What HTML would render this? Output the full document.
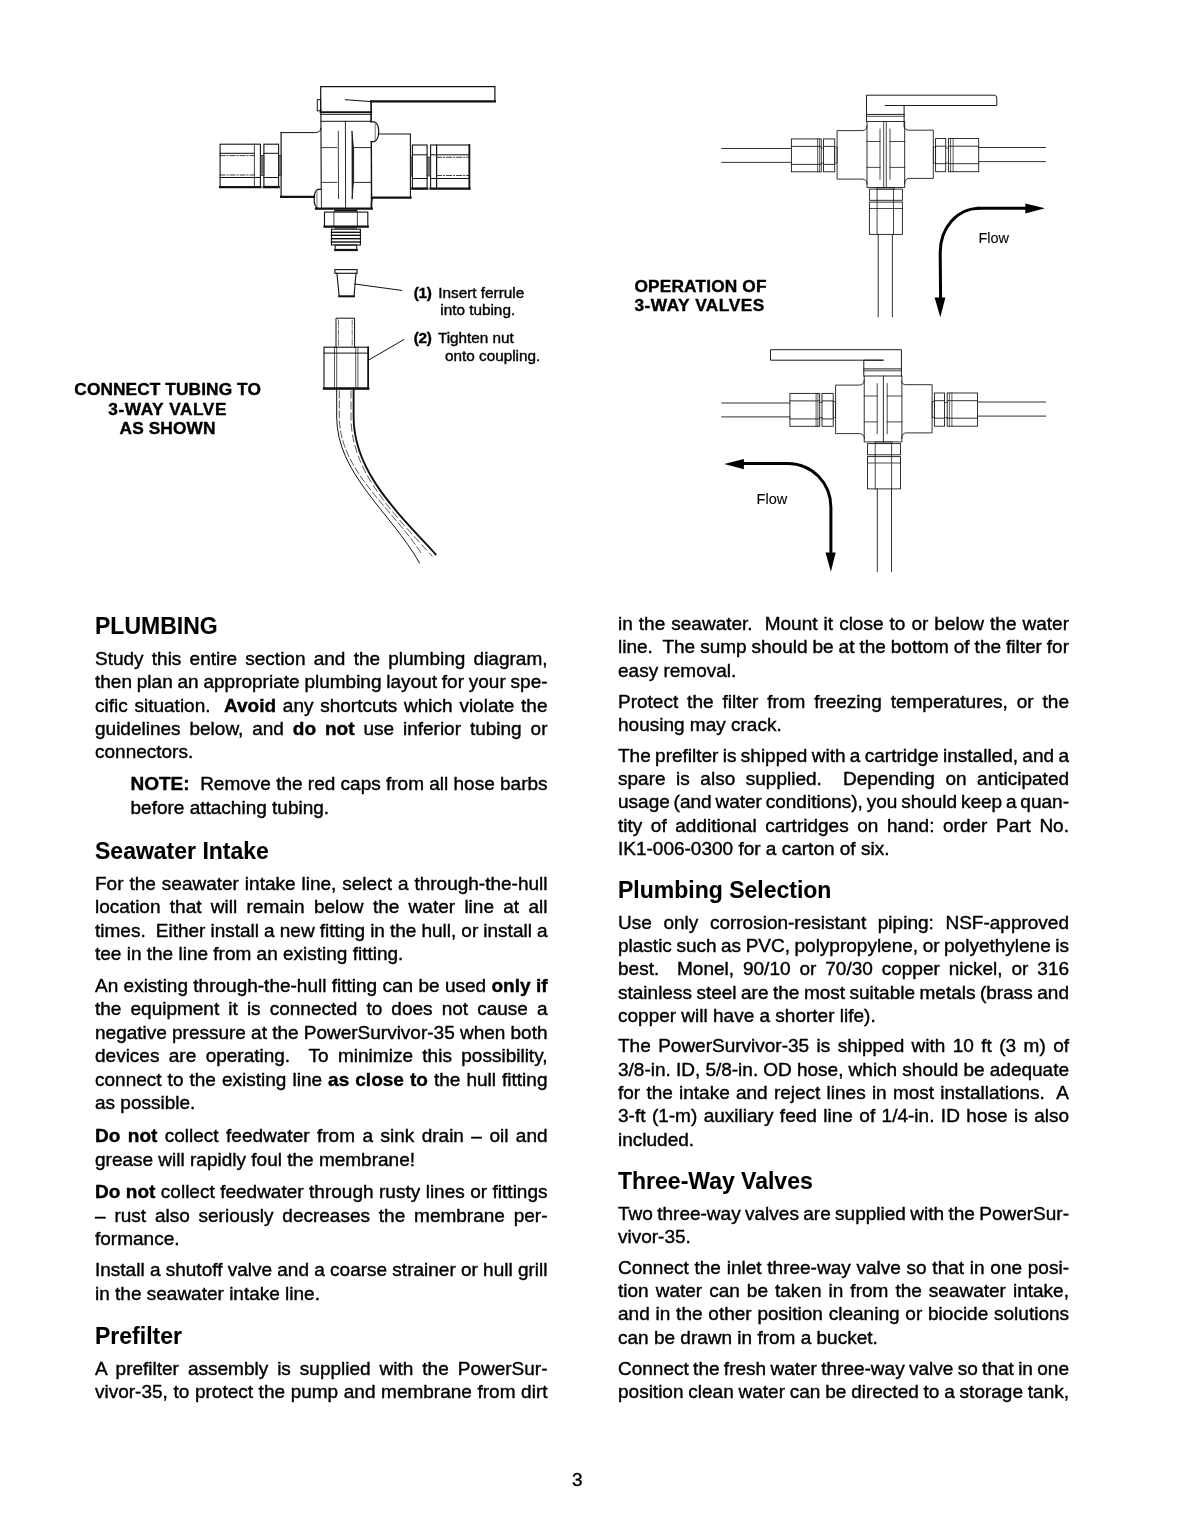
<!DOCTYPE html>
<html><head><meta charset="utf-8"><title>PowerSurvivor-35 Plumbing</title>
<style>
html,body{margin:0;padding:0;background:#fff;}
body{width:1190px;height:1538px;position:relative;overflow:hidden;font-family:"Liberation Sans",sans-serif;color:#000;filter:grayscale(1);-webkit-text-stroke:0.4px #000;}
.j,.l{position:absolute;white-space:nowrap;}
.j{text-align:justify;text-align-last:justify;white-space:normal;}
.l{text-align:left;}
b{font-weight:bold;}
svg{position:absolute;left:0;top:0;}
</style></head><body>
<svg width="1190" height="600" viewBox="0 0 1190 600" stroke-linecap="square">
<path d="M320.7,112 L320.7,86.6 L494.9,86.6 L494.9,101.4" stroke="#111" stroke-width="1.20" fill="none"/>
<path d="M345.4,99.7 L370.6,101.6 L494.9,101.6" stroke="#111" stroke-width="1.00" fill="none"/>
<line x1="371.0" y1="101.4" x2="494.9" y2="101.4" stroke="#111" stroke-width="2.20"/>
<rect x="317.3" y="99.7" width="3.4" height="11.1" stroke="#111" stroke-width="1.00" fill="none"/>
<line x1="371.1" y1="101.6" x2="371.1" y2="121.8" stroke="#111" stroke-width="1.60"/>
<line x1="320.9" y1="110.0" x2="321.3" y2="208.6" stroke="#111" stroke-width="1.10"/>
<line x1="320.7" y1="112.3" x2="371.1" y2="112.3" stroke="#111" stroke-width="2.00"/>
<line x1="320.7" y1="114.5" x2="371.1" y2="114.5" stroke="#111" stroke-width="0.80"/>
<line x1="320.9" y1="121.3" x2="371.1" y2="121.3" stroke="#111" stroke-width="1.00"/>
<line x1="371.3" y1="141.5" x2="371.6" y2="208.6" stroke="#111" stroke-width="1.40"/>
<line x1="345.4" y1="121.3" x2="345.6" y2="208.0" stroke="#111" stroke-width="0.90"/>
<line x1="338.3" y1="131.4" x2="338.5" y2="198.5" stroke="#111" stroke-width="0.80"/>
<path d="M352.0,131.4 L353.6,150 L353.6,180 L352.2,198.5 Z" stroke="#111" stroke-width="0.80" fill="#111"/>
<line x1="321.5" y1="147.6" x2="336.8" y2="147.6" stroke="#111" stroke-width="0.80"/>
<line x1="353.6" y1="147.6" x2="371.1" y2="147.6" stroke="#111" stroke-width="0.90"/>
<line x1="321.5" y1="182.4" x2="336.8" y2="182.4" stroke="#111" stroke-width="0.80"/>
<line x1="353.6" y1="182.4" x2="371.1" y2="182.4" stroke="#111" stroke-width="0.90"/>
<path d="M371.1,121.8 L374.2,121.8 Q378.7,123.5 378.7,131.6 Q378.7,139.8 374.2,141.6 L371.1,141.6" stroke="#111" stroke-width="1.20" fill="#fff"/>
<line x1="375.2" y1="124.0" x2="375.2" y2="139.5" stroke="#111" stroke-width="0.60"/>
<path d="M320.7,189.4 L317.6,189.4 Q314.1,191.5 314.1,199 Q314.1,206.5 318,208.6 L320.7,208.6" stroke="#111" stroke-width="1.20" fill="#fff"/>
<line x1="317.0" y1="192.0" x2="317.0" y2="206.0" stroke="#111" stroke-width="0.60"/>
<path d="M378.7,134 L410.4,134 L410.4,197.5" stroke="#111" stroke-width="1.10" fill="none"/>
<line x1="372.0" y1="197.6" x2="410.6" y2="197.6" stroke="#111" stroke-width="2.20"/>
<path d="M372.2,198.5 Q371.2,201 371.3,207.7" stroke="#111" stroke-width="1.40" fill="none"/>
<path d="M281.1,132.6 L315.5,132.6 Q320.7,132.4 320.9,128.4" stroke="#111" stroke-width="1.00" fill="none"/>
<line x1="281.1" y1="132.6" x2="281.1" y2="196.6" stroke="#111" stroke-width="1.20"/>
<line x1="281.1" y1="196.8" x2="314.1" y2="196.8" stroke="#111" stroke-width="2.20"/>
<line x1="316.0" y1="208.7" x2="371.8" y2="208.7" stroke="#111" stroke-width="2.20"/>
<rect x="220.1" y="144.2" width="40.3" height="42.9" stroke="#111" stroke-width="1.10" fill="none"/>
<line x1="220.1" y1="187.1" x2="260.4" y2="187.1" stroke="#111" stroke-width="2.40"/>
<line x1="254.4" y1="144.2" x2="254.4" y2="187.1" stroke="#111" stroke-width="0.80"/>
<line x1="220.1" y1="153.3" x2="254.4" y2="153.3" stroke="#111" stroke-width="1.00"/>
<line x1="220.1" y1="155.6" x2="254.4" y2="155.6" stroke="#111" stroke-width="0.80" stroke-dasharray="5 2 1 2"/>
<line x1="220.1" y1="175.0" x2="254.4" y2="175.0" stroke="#111" stroke-width="0.80" stroke-dasharray="5 2 1 2"/>
<line x1="220.1" y1="177.5" x2="260.4" y2="177.5" stroke="#111" stroke-width="1.00"/>
<rect x="263.9" y="144.2" width="14.7" height="42.9" stroke="#111" stroke-width="1.10" fill="none"/>
<line x1="263.9" y1="187.1" x2="278.6" y2="187.1" stroke="#111" stroke-width="2.40"/>
<line x1="263.9" y1="153.3" x2="278.6" y2="153.3" stroke="#111" stroke-width="1.00"/>
<line x1="263.9" y1="177.5" x2="278.6" y2="177.5" stroke="#111" stroke-width="1.00"/>
<rect x="260.4" y="155.3" width="3.5" height="20.2" stroke="#111" stroke-width="0.60" fill="#777"/>
<rect x="278.6" y="155.3" width="2.5" height="20.2" stroke="#111" stroke-width="0.60" fill="#777"/>
<rect x="412.4" y="145.0" width="14.7" height="43.6" stroke="#111" stroke-width="1.10" fill="none"/>
<line x1="412.4" y1="188.6" x2="427.1" y2="188.6" stroke="#111" stroke-width="2.40"/>
<line x1="412.4" y1="154.8" x2="427.1" y2="154.8" stroke="#111" stroke-width="1.00"/>
<line x1="412.4" y1="178.5" x2="427.1" y2="178.5" stroke="#111" stroke-width="1.00"/>
<rect x="430.6" y="145.0" width="38.8" height="43.6" stroke="#111" stroke-width="1.10" fill="none"/>
<line x1="430.6" y1="188.6" x2="469.4" y2="188.6" stroke="#111" stroke-width="2.40"/>
<line x1="469.4" y1="145.0" x2="469.4" y2="188.6" stroke="#111" stroke-width="1.80"/>
<line x1="436.6" y1="145.0" x2="436.6" y2="188.6" stroke="#111" stroke-width="1.20"/>
<line x1="430.6" y1="154.8" x2="469.4" y2="154.8" stroke="#111" stroke-width="1.00"/>
<line x1="436.6" y1="157.3" x2="469.4" y2="157.3" stroke="#111" stroke-width="0.80" stroke-dasharray="5 2 1 2"/>
<line x1="436.6" y1="175.5" x2="469.4" y2="175.5" stroke="#111" stroke-width="0.80" stroke-dasharray="5 2 1 2"/>
<line x1="430.6" y1="178.5" x2="469.4" y2="178.5" stroke="#111" stroke-width="1.00"/>
<rect x="410.4" y="157.0" width="2.0" height="19.0" stroke="#111" stroke-width="0.60" fill="#666"/>
<rect x="427.1" y="157.0" width="3.5" height="19.0" stroke="#111" stroke-width="0.60" fill="#777"/>
<line x1="335.2" y1="210.6" x2="356.4" y2="210.6" stroke="#111" stroke-width="2.00"/>
<rect x="324.5" y="212.1" width="43.3" height="14.5" stroke="#111" stroke-width="1.10" fill="none"/>
<line x1="324.5" y1="226.6" x2="367.8" y2="226.6" stroke="#111" stroke-width="2.20"/>
<line x1="333.9" y1="212.1" x2="333.9" y2="226.6" stroke="#111" stroke-width="0.80"/>
<line x1="357.4" y1="212.1" x2="357.4" y2="226.6" stroke="#111" stroke-width="0.80"/>
<line x1="335.5" y1="228.0" x2="356.4" y2="228.0" stroke="#111" stroke-width="1.00"/>
<rect x="331.5" y="229.2" width="28.9" height="15.8" stroke="#111" stroke-width="1.10" fill="none"/>
<line x1="331.5" y1="232.3" x2="360.4" y2="232.3" stroke="#111" stroke-width="1.40"/>
<line x1="331.5" y1="235.3" x2="360.4" y2="235.3" stroke="#111" stroke-width="1.40"/>
<line x1="331.5" y1="238.7" x2="360.4" y2="238.7" stroke="#111" stroke-width="1.40"/>
<line x1="331.5" y1="242.0" x2="360.4" y2="242.0" stroke="#111" stroke-width="1.40"/>
<rect x="335.2" y="245.0" width="21.5" height="5.4" stroke="#111" stroke-width="1.00" fill="none"/>
<line x1="335.2" y1="250.0" x2="356.7" y2="250.0" stroke="#111" stroke-width="2.20"/>
<rect x="334.9" y="269.6" width="22.2" height="3.7" stroke="#111" stroke-width="1.10" fill="none"/>
<path d="M336.9,273.3 L339.2,296.5 L354.0,296.5 L356.0,273.3" stroke="#111" stroke-width="1.10" fill="none"/>
<line x1="339.2" y1="296.3" x2="354.0" y2="296.3" stroke="#111" stroke-width="2.00"/>
<line x1="354.7" y1="284.0" x2="401.6" y2="290.4" stroke="#111" stroke-width="1.00"/>
<path d="M336,347.2 L336,318.2 L354.6,318.2 L354.6,347.2" stroke="#111" stroke-width="1.00" fill="none"/>
<line x1="338.5" y1="320.0" x2="338.5" y2="347.0" stroke="#111" stroke-width="0.60" stroke-dasharray="5 2 1 2"/>
<line x1="352.2" y1="320.0" x2="352.2" y2="347.0" stroke="#111" stroke-width="0.60" stroke-dasharray="5 2 1 2"/>
<rect x="324.0" y="347.2" width="44.2" height="41.5" stroke="#111" stroke-width="1.10" fill="none"/>
<line x1="324.0" y1="388.5" x2="368.2" y2="388.5" stroke="#111" stroke-width="2.40"/>
<line x1="368.2" y1="347.2" x2="368.2" y2="388.7" stroke="#111" stroke-width="1.60"/>
<line x1="324.0" y1="353.1" x2="368.2" y2="353.1" stroke="#111" stroke-width="1.00"/>
<line x1="334.5" y1="347.2" x2="334.5" y2="388.7" stroke="#111" stroke-width="0.70"/>
<line x1="336.7" y1="347.2" x2="336.7" y2="388.7" stroke="#111" stroke-width="0.70"/>
<line x1="355.7" y1="347.2" x2="355.7" y2="388.7" stroke="#111" stroke-width="0.70"/>
<line x1="357.9" y1="347.2" x2="357.9" y2="388.7" stroke="#111" stroke-width="0.70"/>
<line x1="368.2" y1="360.3" x2="403.8" y2="339.6" stroke="#111" stroke-width="1.00"/>
<path d="M336.7,388.7 L336.7,417.1 C336.7,473.7 390.9,512.4 419.5,562.9" stroke="#111" stroke-width="1.00" fill="none"/>
<path d="M353.6,388.7 L353.6,417.1 C353.6,470.5 394.5,509.5 435.6,554.3" stroke="#111" stroke-width="1.90" fill="none"/>
<path d="M339.3,391 L339.3,417.1 C339.4,471 393,509 421,553" stroke="#111" stroke-width="0.70" fill="none" stroke-dasharray="7 3"/>
<path d="M351.0,391 L351.0,417.1 C351.1,471 391,511 432,556" stroke="#111" stroke-width="0.70" fill="none" stroke-dasharray="7 4"/>
<rect x="867.0" y="121.5" width="37.7" height="65.9" stroke="#1c1c1c" stroke-width="0.90" fill="none"/>
<line x1="883.7" y1="121.5" x2="883.7" y2="187.4" stroke="#1c1c1c" stroke-width="0.80"/>
<line x1="886.3" y1="121.5" x2="886.3" y2="187.4" stroke="#1c1c1c" stroke-width="0.80"/>
<line x1="880.0" y1="129.1" x2="880.0" y2="179.1" stroke="#1c1c1c" stroke-width="0.80"/>
<line x1="890.0" y1="129.1" x2="890.0" y2="179.1" stroke="#1c1c1c" stroke-width="0.80"/>
<line x1="867.0" y1="141.5" x2="880.0" y2="141.5" stroke="#1c1c1c" stroke-width="0.80"/>
<line x1="890.0" y1="141.5" x2="904.7" y2="141.5" stroke="#1c1c1c" stroke-width="0.80"/>
<line x1="867.0" y1="167.4" x2="880.0" y2="167.4" stroke="#1c1c1c" stroke-width="0.80"/>
<line x1="890.0" y1="167.4" x2="904.7" y2="167.4" stroke="#1c1c1c" stroke-width="0.80"/>
<line x1="866.5" y1="114.4" x2="904.3" y2="114.4" stroke="#1c1c1c" stroke-width="1.00"/>
<line x1="866.5" y1="116.3" x2="904.3" y2="116.3" stroke="#1c1c1c" stroke-width="0.80"/>
<path d="M867.0,126.0 Q867.0,130.6 862.0,130.6 L837.1,130.6 L837.1,179.1 L862.0,179.1 Q867.0,179.1 867.3,184.0" stroke="#1c1c1c" stroke-width="0.90" fill="none"/>
<path d="M904.4,126.5 Q904.4,130.2 909.0,130.2 L933.3,130.2 L933.3,178.4 L909.0,178.4 Q904.6,178.4 904.6,184.0" stroke="#1c1c1c" stroke-width="0.90" fill="none"/>
<rect x="791.4" y="138.9" width="29.8" height="32.9" stroke="#1c1c1c" stroke-width="0.90" fill="none"/>
<line x1="817.6" y1="138.9" x2="817.6" y2="171.8" stroke="#1c1c1c" stroke-width="0.70"/>
<line x1="819.4" y1="138.9" x2="819.4" y2="171.8" stroke="#1c1c1c" stroke-width="0.70"/>
<line x1="791.4" y1="146.4" x2="821.2" y2="146.4" stroke="#1c1c1c" stroke-width="0.90"/>
<line x1="791.4" y1="164.4" x2="821.2" y2="164.4" stroke="#1c1c1c" stroke-width="0.90"/>
<rect x="823.5" y="138.9" width="11.2" height="32.9" stroke="#1c1c1c" stroke-width="0.90" fill="none"/>
<line x1="823.5" y1="146.4" x2="834.7" y2="146.4" stroke="#1c1c1c" stroke-width="0.90"/>
<line x1="823.5" y1="164.4" x2="834.7" y2="164.4" stroke="#1c1c1c" stroke-width="0.90"/>
<line x1="821.2" y1="148.0" x2="823.5" y2="148.0" stroke="#1c1c1c" stroke-width="0.70"/>
<line x1="821.2" y1="163.0" x2="823.5" y2="163.0" stroke="#1c1c1c" stroke-width="0.70"/>
<rect x="834.7" y="147.0" width="2.4" height="16.0" stroke="#1c1c1c" stroke-width="0.70" fill="none"/>
<line x1="721.8" y1="148.5" x2="791.4" y2="148.5" stroke="#1c1c1c" stroke-width="0.90"/>
<line x1="721.8" y1="162.4" x2="791.4" y2="162.4" stroke="#1c1c1c" stroke-width="0.90"/>
<rect x="935.6" y="138.5" width="10.1" height="33.2" stroke="#1c1c1c" stroke-width="0.90" fill="none"/>
<line x1="935.6" y1="146.2" x2="945.7" y2="146.2" stroke="#1c1c1c" stroke-width="0.90"/>
<line x1="935.6" y1="163.7" x2="945.7" y2="163.7" stroke="#1c1c1c" stroke-width="0.90"/>
<rect x="948.4" y="138.5" width="30.3" height="33.2" stroke="#1c1c1c" stroke-width="0.90" fill="none"/>
<line x1="950.6" y1="138.5" x2="950.6" y2="171.7" stroke="#1c1c1c" stroke-width="0.70"/>
<line x1="953.1" y1="138.5" x2="953.1" y2="171.7" stroke="#1c1c1c" stroke-width="0.70"/>
<line x1="948.4" y1="146.2" x2="978.7" y2="146.2" stroke="#1c1c1c" stroke-width="0.90"/>
<line x1="948.4" y1="163.7" x2="978.7" y2="163.7" stroke="#1c1c1c" stroke-width="0.90"/>
<rect x="933.3" y="147.0" width="2.3" height="16.0" stroke="#1c1c1c" stroke-width="0.70" fill="none"/>
<line x1="945.7" y1="148.0" x2="948.4" y2="148.0" stroke="#1c1c1c" stroke-width="0.70"/>
<line x1="945.7" y1="163.0" x2="948.4" y2="163.0" stroke="#1c1c1c" stroke-width="0.70"/>
<line x1="978.7" y1="147.5" x2="1045.5" y2="147.5" stroke="#1c1c1c" stroke-width="0.90"/>
<line x1="978.7" y1="161.6" x2="1045.5" y2="161.6" stroke="#1c1c1c" stroke-width="0.90"/>
<rect x="877.0" y="187.4" width="17.0" height="1.7" stroke="#1c1c1c" stroke-width="0.70" fill="none"/>
<rect x="869.4" y="189.1" width="33.0" height="11.2" stroke="#1c1c1c" stroke-width="0.90" fill="none"/>
<line x1="877.1" y1="189.1" x2="877.1" y2="200.3" stroke="#1c1c1c" stroke-width="0.80"/>
<line x1="893.5" y1="189.1" x2="893.5" y2="200.3" stroke="#1c1c1c" stroke-width="0.80"/>
<rect x="869.4" y="202.1" width="33.0" height="32.3" stroke="#1c1c1c" stroke-width="0.90" fill="none"/>
<line x1="869.4" y1="208.5" x2="902.4" y2="208.5" stroke="#1c1c1c" stroke-width="0.80"/>
<line x1="877.1" y1="200.3" x2="877.1" y2="234.4" stroke="#1c1c1c" stroke-width="0.80"/>
<line x1="893.5" y1="200.3" x2="893.5" y2="234.4" stroke="#1c1c1c" stroke-width="0.80"/>
<line x1="878.2" y1="234.4" x2="878.2" y2="316.8" stroke="#1c1c1c" stroke-width="0.90"/>
<line x1="892.4" y1="234.4" x2="892.4" y2="316.8" stroke="#1c1c1c" stroke-width="0.90"/>
<path d="M866.5,121.5 L866.5,95.2 L994.5,95.2 Q996.8,95.4 996.8,98 L996.8,105.5 L885.3,105.5" stroke="#1c1c1c" stroke-width="1.00" fill="none"/>
<line x1="904.1" y1="105.5" x2="904.1" y2="126.7" stroke="#1c1c1c" stroke-width="1.00"/>
<rect x="864.2" y="376.0" width="37.7" height="65.9" stroke="#1c1c1c" stroke-width="0.90" fill="none"/>
<line x1="883.4" y1="376.0" x2="883.4" y2="441.9" stroke="#1c1c1c" stroke-width="0.90"/>
<line x1="877.2" y1="383.6" x2="877.2" y2="433.6" stroke="#1c1c1c" stroke-width="0.80"/>
<line x1="887.2" y1="383.6" x2="887.2" y2="433.6" stroke="#1c1c1c" stroke-width="0.80"/>
<line x1="864.2" y1="396.0" x2="877.2" y2="396.0" stroke="#1c1c1c" stroke-width="0.80"/>
<line x1="887.2" y1="396.0" x2="901.9" y2="396.0" stroke="#1c1c1c" stroke-width="0.80"/>
<line x1="864.2" y1="421.9" x2="877.2" y2="421.9" stroke="#1c1c1c" stroke-width="0.80"/>
<line x1="887.2" y1="421.9" x2="901.9" y2="421.9" stroke="#1c1c1c" stroke-width="0.80"/>
<line x1="863.7" y1="368.9" x2="901.5" y2="368.9" stroke="#1c1c1c" stroke-width="1.00"/>
<line x1="863.7" y1="370.8" x2="901.5" y2="370.8" stroke="#1c1c1c" stroke-width="0.80"/>
<path d="M864.2,380.5 Q864.2,385.1 859.2,385.1 L835.6,385.1 L835.6,433.6 L859.2,433.6 Q864.2,433.6 864.5,438.5" stroke="#1c1c1c" stroke-width="0.90" fill="none"/>
<path d="M901.6,381.0 Q901.6,384.7 906.2,384.7 L932.1,384.7 L932.1,432.9 L906.2,432.9 Q901.8,432.9 901.8,438.5" stroke="#1c1c1c" stroke-width="0.90" fill="none"/>
<rect x="789.9" y="393.4" width="29.8" height="32.9" stroke="#1c1c1c" stroke-width="0.90" fill="none"/>
<line x1="816.1" y1="393.4" x2="816.1" y2="426.3" stroke="#1c1c1c" stroke-width="0.70"/>
<line x1="817.9" y1="393.4" x2="817.9" y2="426.3" stroke="#1c1c1c" stroke-width="0.70"/>
<line x1="789.9" y1="400.9" x2="819.7" y2="400.9" stroke="#1c1c1c" stroke-width="0.90"/>
<line x1="789.9" y1="418.9" x2="819.7" y2="418.9" stroke="#1c1c1c" stroke-width="0.90"/>
<rect x="822.0" y="393.4" width="11.2" height="32.9" stroke="#1c1c1c" stroke-width="0.90" fill="none"/>
<line x1="822.0" y1="400.9" x2="833.2" y2="400.9" stroke="#1c1c1c" stroke-width="0.90"/>
<line x1="822.0" y1="418.9" x2="833.2" y2="418.9" stroke="#1c1c1c" stroke-width="0.90"/>
<line x1="819.7" y1="402.5" x2="822.0" y2="402.5" stroke="#1c1c1c" stroke-width="0.70"/>
<line x1="819.7" y1="417.5" x2="822.0" y2="417.5" stroke="#1c1c1c" stroke-width="0.70"/>
<rect x="833.2" y="401.5" width="2.4" height="16.0" stroke="#1c1c1c" stroke-width="0.70" fill="none"/>
<line x1="721.8" y1="403.0" x2="789.9" y2="403.0" stroke="#1c1c1c" stroke-width="0.90"/>
<line x1="721.8" y1="416.9" x2="789.9" y2="416.9" stroke="#1c1c1c" stroke-width="0.90"/>
<rect x="934.4" y="393.0" width="10.1" height="33.2" stroke="#1c1c1c" stroke-width="0.90" fill="none"/>
<line x1="934.4" y1="400.7" x2="944.5" y2="400.7" stroke="#1c1c1c" stroke-width="0.90"/>
<line x1="934.4" y1="418.2" x2="944.5" y2="418.2" stroke="#1c1c1c" stroke-width="0.90"/>
<rect x="947.2" y="393.0" width="30.3" height="33.2" stroke="#1c1c1c" stroke-width="0.90" fill="none"/>
<line x1="949.4" y1="393.0" x2="949.4" y2="426.2" stroke="#1c1c1c" stroke-width="0.70"/>
<line x1="951.9" y1="393.0" x2="951.9" y2="426.2" stroke="#1c1c1c" stroke-width="0.70"/>
<line x1="947.2" y1="400.7" x2="977.5" y2="400.7" stroke="#1c1c1c" stroke-width="0.90"/>
<line x1="947.2" y1="418.2" x2="977.5" y2="418.2" stroke="#1c1c1c" stroke-width="0.90"/>
<rect x="932.1" y="401.5" width="2.3" height="16.0" stroke="#1c1c1c" stroke-width="0.70" fill="none"/>
<line x1="944.5" y1="402.5" x2="947.2" y2="402.5" stroke="#1c1c1c" stroke-width="0.70"/>
<line x1="944.5" y1="417.5" x2="947.2" y2="417.5" stroke="#1c1c1c" stroke-width="0.70"/>
<line x1="977.5" y1="402.0" x2="1045.5" y2="402.0" stroke="#1c1c1c" stroke-width="0.90"/>
<line x1="977.5" y1="416.1" x2="1045.5" y2="416.1" stroke="#1c1c1c" stroke-width="0.90"/>
<rect x="875.1" y="441.9" width="17.0" height="1.7" stroke="#1c1c1c" stroke-width="0.70" fill="none"/>
<rect x="867.5" y="443.6" width="33.0" height="11.2" stroke="#1c1c1c" stroke-width="0.90" fill="none"/>
<line x1="875.2" y1="443.6" x2="875.2" y2="454.8" stroke="#1c1c1c" stroke-width="0.80"/>
<line x1="891.6" y1="443.6" x2="891.6" y2="454.8" stroke="#1c1c1c" stroke-width="0.80"/>
<rect x="867.5" y="456.6" width="33.0" height="32.3" stroke="#1c1c1c" stroke-width="0.90" fill="none"/>
<line x1="867.5" y1="463.0" x2="900.5" y2="463.0" stroke="#1c1c1c" stroke-width="0.80"/>
<line x1="875.2" y1="454.8" x2="875.2" y2="488.9" stroke="#1c1c1c" stroke-width="0.80"/>
<line x1="891.6" y1="454.8" x2="891.6" y2="488.9" stroke="#1c1c1c" stroke-width="0.80"/>
<line x1="877.3" y1="488.9" x2="877.3" y2="571.3" stroke="#1c1c1c" stroke-width="0.90"/>
<line x1="891.5" y1="488.9" x2="891.5" y2="571.3" stroke="#1c1c1c" stroke-width="0.90"/>
<path d="M863.8,376 L863.8,360.2 L883,360.2 M901.4,376 L901.4,349.7 L770.5,349.7 L770.5,360.2 L883,360.2" stroke="#1c1c1c" stroke-width="1.00" fill="none"/>
<path d="M978.8,208.2 L1026,208.2" stroke="#000" stroke-width="3.00" fill="none"/>
<path d="M978.8,208.2 C957,208.4 940.2,228 940.2,252.4 L940.6,299" stroke="#000" stroke-width="3.00" fill="none"/>
<polygon points="1025.3,203.6 1045.0,208.3 1025.3,213.6" fill="#000"/>
<polygon points="934.6,297.4 945.4,297.4 940.3,317.2" fill="#000"/>
<path d="M743,463.4 L788,463.4 C812,463.6 830.9,483 830.9,507.4 L830.9,553" stroke="#000" stroke-width="3.00" fill="none"/>
<polygon points="743.9,458.9 724.2,463.9 743.9,469.2" fill="#000"/>
<polygon points="825.5,552.4 835.7,552.4 830.9,571.7" fill="#000"/>
</svg>
<div class="l" style="left:95.0px;top:615.33px;font-size:23.0px;line-height:23.0px;font-weight:bold;-webkit-text-stroke:0.1px #000">PLUMBING</div>
<div class="l" style="left:95.0px;top:648.81px;font-size:19.0px;line-height:19.0px;word-spacing:2.93px">Study this entire section and the plumbing diagram,</div>
<div class="l" style="left:95.0px;top:672.21px;font-size:19.0px;line-height:19.0px;word-spacing:-0.47px">then plan an appropriate plumbing layout for your spe-</div>
<div class="l" style="left:95.0px;top:695.61px;font-size:19.0px;line-height:19.0px;word-spacing:1.47px">cific situation.&nbsp; <b>Avoid</b> any shortcuts which violate the</div>
<div class="l" style="left:95.0px;top:719.01px;font-size:19.0px;line-height:19.0px;word-spacing:3.62px">guidelines below, and <b>do not</b> use inferior tubing or</div>
<div class="l" style="left:95.0px;top:742.41px;font-size:19.0px;line-height:19.0px">connectors.</div>
<div class="l" style="left:130.5px;top:774.21px;font-size:19.0px;line-height:19.0px;word-spacing:-0.01px"><b>NOTE:</b>&nbsp; Remove the red caps from all hose barbs</div>
<div class="l" style="left:130.5px;top:797.61px;font-size:19.0px;line-height:19.0px">before attaching tubing.</div>
<div class="l" style="left:95.0px;top:839.53px;font-size:23.0px;line-height:23.0px;font-weight:bold;-webkit-text-stroke:0.1px #000">Seawater Intake</div>
<div class="l" style="left:95.0px;top:873.71px;font-size:19.0px;line-height:19.0px;word-spacing:0.67px">For the seawater intake line, select a through-the-hull</div>
<div class="l" style="left:95.0px;top:897.11px;font-size:19.0px;line-height:19.0px;word-spacing:4.04px">location that will remain below the water line at all</div>
<div class="l" style="left:95.0px;top:920.51px;font-size:19.0px;line-height:19.0px;word-spacing:-0.22px">times.&nbsp; Either install a new fitting in the hull, or install a</div>
<div class="l" style="left:95.0px;top:943.91px;font-size:19.0px;line-height:19.0px">tee in the line from an existing fitting.</div>
<div class="l" style="left:95.0px;top:976.01px;font-size:19.0px;line-height:19.0px;word-spacing:0.06px">An existing through-the-hull fitting can be used <b>only if</b></div>
<div class="l" style="left:95.0px;top:999.41px;font-size:19.0px;line-height:19.0px;word-spacing:3.80px">the equipment it is connected to does not cause a</div>
<div class="l" style="left:95.0px;top:1022.81px;font-size:19.0px;line-height:19.0px;word-spacing:-0.10px">negative pressure at the PowerSurvivor-35 when both</div>
<div class="l" style="left:95.0px;top:1046.21px;font-size:19.0px;line-height:19.0px;word-spacing:4.10px">devices are operating.&nbsp; To minimize this possibility,</div>
<div class="l" style="left:95.0px;top:1069.61px;font-size:19.0px;line-height:19.0px;word-spacing:0.78px">connect to the existing line <b>as close to</b> the hull fitting</div>
<div class="l" style="left:95.0px;top:1093.01px;font-size:19.0px;line-height:19.0px">as possible.</div>
<div class="l" style="left:95.0px;top:1126.31px;font-size:19.0px;line-height:19.0px;word-spacing:2.17px"><b>Do not</b> collect feedwater from a sink drain &ndash; oil and</div>
<div class="l" style="left:95.0px;top:1149.71px;font-size:19.0px;line-height:19.0px">grease will rapidly foul the membrane!</div>
<div class="l" style="left:95.0px;top:1182.11px;font-size:19.0px;line-height:19.0px;word-spacing:0.20px"><b>Do not</b> collect feedwater through rusty lines or fittings</div>
<div class="l" style="left:95.0px;top:1205.51px;font-size:19.0px;line-height:19.0px;word-spacing:3.54px">&ndash; rust also seriously decreases the membrane per-</div>
<div class="l" style="left:95.0px;top:1228.91px;font-size:19.0px;line-height:19.0px">formance.</div>
<div class="l" style="left:95.0px;top:1260.21px;font-size:19.0px;line-height:19.0px;word-spacing:-0.02px">Install a shutoff valve and a coarse strainer or hull grill</div>
<div class="l" style="left:95.0px;top:1283.61px;font-size:19.0px;line-height:19.0px">in the seawater intake line.</div>
<div class="l" style="left:95.0px;top:1325.13px;font-size:23.0px;line-height:23.0px;font-weight:bold;-webkit-text-stroke:0.1px #000">Prefilter</div>
<div class="l" style="left:95.0px;top:1358.71px;font-size:19.0px;line-height:19.0px;word-spacing:3.69px">A prefilter assembly is supplied with the PowerSur-</div>
<div class="l" style="left:95.0px;top:1382.11px;font-size:19.0px;line-height:19.0px;word-spacing:0.33px">vivor-35, to protect the pump and membrane from dirt</div>
<div class="l" style="left:618.0px;top:614.01px;font-size:19.0px;line-height:19.0px;word-spacing:0.77px">in the seawater.&nbsp; Mount it close to or below the water</div>
<div class="l" style="left:618.0px;top:637.41px;font-size:19.0px;line-height:19.0px;word-spacing:-0.32px">line.&nbsp; The sump should be at the bottom of the filter for</div>
<div class="l" style="left:618.0px;top:660.81px;font-size:19.0px;line-height:19.0px">easy removal.</div>
<div class="l" style="left:618.0px;top:691.71px;font-size:19.0px;line-height:19.0px;word-spacing:3.63px">Protect the filter from freezing temperatures, or the</div>
<div class="l" style="left:618.0px;top:715.11px;font-size:19.0px;line-height:19.0px">housing may crack.</div>
<div class="l" style="left:618.0px;top:745.51px;font-size:19.0px;line-height:19.0px;word-spacing:-0.94px">The prefilter is shipped with a cartridge installed, and a</div>
<div class="l" style="left:618.0px;top:768.91px;font-size:19.0px;line-height:19.0px;word-spacing:5.28px">spare is also supplied.&nbsp; Depending on anticipated</div>
<div class="l" style="left:618.0px;top:792.31px;font-size:19.0px;line-height:19.0px;word-spacing:-1.46px">usage (and water conditions), you should keep a quan-</div>
<div class="l" style="left:618.0px;top:815.71px;font-size:19.0px;line-height:19.0px;word-spacing:3.30px">tity of additional cartridges on hand: order Part No.</div>
<div class="l" style="left:618.0px;top:839.11px;font-size:19.0px;line-height:19.0px">IK1-006-0300 for a carton of six.</div>
<div class="l" style="left:618.0px;top:878.73px;font-size:23.0px;line-height:23.0px;font-weight:bold;-webkit-text-stroke:0.1px #000">Plumbing Selection</div>
<div class="l" style="left:618.0px;top:912.51px;font-size:19.0px;line-height:19.0px;word-spacing:6.35px">Use only corrosion-resistant piping: NSF-approved</div>
<div class="l" style="left:618.0px;top:935.91px;font-size:19.0px;line-height:19.0px;word-spacing:-0.75px">plastic such as PVC, polypropylene, or polyethylene is</div>
<div class="l" style="left:618.0px;top:959.31px;font-size:19.0px;line-height:19.0px;word-spacing:3.64px">best.&nbsp; Monel, 90/10 or 70/30 copper nickel, or 316</div>
<div class="l" style="left:618.0px;top:982.71px;font-size:19.0px;line-height:19.0px;word-spacing:-0.79px">stainless steel are the most suitable metals (brass and</div>
<div class="l" style="left:618.0px;top:1006.11px;font-size:19.0px;line-height:19.0px">copper will have a shorter life).</div>
<div class="l" style="left:618.0px;top:1036.21px;font-size:19.0px;line-height:19.0px;word-spacing:2.12px">The PowerSurvivor-35 is shipped with 10 ft (3 m) of</div>
<div class="l" style="left:618.0px;top:1059.61px;font-size:19.0px;line-height:19.0px;word-spacing:-0.13px">3/8-in. ID, 5/8-in. OD hose, which should be adequate</div>
<div class="l" style="left:618.0px;top:1083.01px;font-size:19.0px;line-height:19.0px;word-spacing:0.95px">for the intake and reject lines in most installations.&nbsp; A</div>
<div class="l" style="left:618.0px;top:1106.41px;font-size:19.0px;line-height:19.0px;word-spacing:1.17px">3-ft (1-m) auxiliary feed line of 1/4-in. ID hose is also</div>
<div class="l" style="left:618.0px;top:1129.81px;font-size:19.0px;line-height:19.0px">included.</div>
<div class="l" style="left:618.0px;top:1170.33px;font-size:23.0px;line-height:23.0px;font-weight:bold;-webkit-text-stroke:0.1px #000">Three-Way Valves</div>
<div class="l" style="left:618.0px;top:1204.01px;font-size:19.0px;line-height:19.0px;word-spacing:-0.90px">Two three-way valves are supplied with the PowerSur-</div>
<div class="l" style="left:618.0px;top:1227.41px;font-size:19.0px;line-height:19.0px">vivor-35.</div>
<div class="l" style="left:618.0px;top:1257.61px;font-size:19.0px;line-height:19.0px;word-spacing:0.47px">Connect the inlet three-way valve so that in one posi-</div>
<div class="l" style="left:618.0px;top:1281.01px;font-size:19.0px;line-height:19.0px;word-spacing:1.76px">tion water can be taken in from the seawater intake,</div>
<div class="l" style="left:618.0px;top:1304.41px;font-size:19.0px;line-height:19.0px;word-spacing:0.53px">and in the other position cleaning or biocide solutions</div>
<div class="l" style="left:618.0px;top:1327.81px;font-size:19.0px;line-height:19.0px">can be drawn in from a bucket.</div>
<div class="l" style="left:618.0px;top:1358.81px;font-size:19.0px;line-height:19.0px;word-spacing:-0.94px">Connect the fresh water three-way valve so that in one</div>
<div class="l" style="left:618.0px;top:1382.21px;font-size:19.0px;line-height:19.0px;word-spacing:-0.47px">position clean water can be directed to a storage tank,</div>
<div class="l" style="left:413.8px;top:284.65px;font-size:15.3px;line-height:15.3px;font-weight:bold;letter-spacing:-0.3px">(1)</div>
<div class="l" style="left:438.3px;top:284.65px;font-size:15.3px;line-height:15.3px">Insert ferrule</div>
<div class="l" style="left:440.3px;top:302.25px;font-size:15.3px;line-height:15.3px">into tubing.</div>
<div class="l" style="left:413.8px;top:330.45px;font-size:15.3px;line-height:15.3px;font-weight:bold;letter-spacing:-0.3px">(2)</div>
<div class="l" style="left:437.9px;top:330.45px;font-size:15.3px;line-height:15.3px">Tighten nut</div>
<div class="l" style="left:445.0px;top:348.35px;font-size:15.3px;line-height:15.3px">onto coupling.</div>
<div class="l" style="left:978.4px;top:230.62px;font-size:14.5px;line-height:14.5px;-webkit-text-stroke:0.1px #000">Flow</div>
<div class="l" style="left:756.6px;top:491.52px;font-size:14.5px;line-height:14.5px;-webkit-text-stroke:0.1px #000">Flow</div>
<div class="l" style="left:634.5px;top:278.35px;font-size:17.3px;line-height:17.3px;font-weight:bold;letter-spacing:0.16px">OPERATION OF</div>
<div class="l" style="left:634.5px;top:297.25px;font-size:17.3px;line-height:17.3px;font-weight:bold;letter-spacing:0.5px">3-WAY VALVES</div>
<div class="l" style="left:572.0px;top:1470.21px;font-size:19.0px;line-height:19.0px">3</div>
<div class="l" style="left:17.6px;top:381.35px;width:300px;text-align:center;font-size:17.3px;line-height:17.3px;font-weight:bold;letter-spacing:0.10px;text-indent:0.10px">CONNECT TUBING TO</div>
<div class="l" style="left:17.4px;top:400.75px;width:300px;text-align:center;font-size:17.3px;line-height:17.3px;font-weight:bold;letter-spacing:0.55px;text-indent:0.55px">3-WAY VALVE</div>
<div class="l" style="left:17.5px;top:419.75px;width:300px;text-align:center;font-size:17.3px;line-height:17.3px;font-weight:bold;letter-spacing:0.10px;text-indent:0.10px">AS SHOWN</div>
</body></html>
